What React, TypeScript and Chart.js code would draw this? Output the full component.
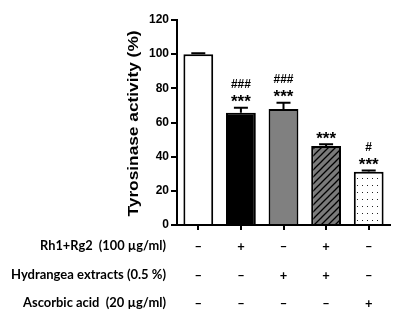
import React, { useEffect, useRef } from "react";
import { Chart, registerables } from "chart.js";

Chart.register(...registerables);

const categories = ["Control", "Rh1+Rg2", "Hydrangea", "Rh1+Rg2+Hydrangea", "Ascorbic acid"];
const values = [100, 65.7, 67.9, 46.3, 31.2];
const errors = [0.6, 3.0, 3.7, 0.9, 0.7];
const stars = ["", "***", "***", "***", "***"];
const hashes = ["", "###", "###", "", "#"];
const yTicks = [0, 20, 40, 60, 80, 100, 120];
const yTitle = "Tyrosinase activity (%)";
const rowLabels = ["Rh1+Rg2  (100 µg/ml)", "Hydrangea extracts (0.5 %)", "Ascorbic acid  (20 µg/ml)"];
const rowSigns = [
  ["–", "+", "–", "+", "–"],
  ["–", "–", "+", "+", "–"],
  ["–", "–", "–", "–", "+"],
];

function hatchPattern(): CanvasPattern | string {
  const c = document.createElement("canvas");
  c.width = 7;
  c.height = 7;
  const g = c.getContext("2d");
  if (!g) return "#777";
  g.fillStyle = "#7a7a7a";
  g.fillRect(0, 0, 7, 7);
  g.strokeStyle = "#000";
  g.lineWidth = 1.3;
  g.beginPath();
  g.moveTo(-1, 8);
  g.lineTo(8, -1);
  g.moveTo(-8, 8);
  g.lineTo(1, -1);
  g.moveTo(6, 8);
  g.lineTo(15, -1);
  g.stroke();
  return g.createPattern(c, "repeat") || "#777";
}

function dotPattern(): CanvasPattern | string {
  const c = document.createElement("canvas");
  c.width = 5;
  c.height = 7;
  const g = c.getContext("2d");
  if (!g) return "#fff";
  g.fillStyle = "#fff";
  g.fillRect(0, 0, 5, 7);
  g.fillStyle = "#222";
  g.fillRect(2, 3, 1, 1);
  return g.createPattern(c, "repeat") || "#fff";
}

const extrasPlugin = {
  id: "extras",
  afterDatasetsDraw(chart: any) {
    const ctx = chart.ctx as CanvasRenderingContext2D;
    const ys = chart.scales.y;
    const meta = chart.getDatasetMeta(0);
    ctx.save();
    ctx.strokeStyle = "#000";
    ctx.lineWidth = 2;
    meta.data.forEach((bar: any, i: number) => {
      const x = bar.x;
      const yTop = ys.getPixelForValue(values[i]);
      const yErr = ys.getPixelForValue(values[i] + errors[i]);
      ctx.beginPath();
      ctx.moveTo(x, yTop);
      ctx.lineTo(x, yErr);
      ctx.moveTo(x - 7, yErr);
      ctx.lineTo(x + 7, yErr);
      ctx.stroke();
      ctx.fillStyle = "#000";
      ctx.textAlign = "center";
      ctx.textBaseline = "middle";
      if (stars[i]) {
        ctx.font = "bold 17px Arial, 'Liberation Sans', sans-serif";
        ctx.fillText(stars[i], x, yErr - 5);
      }
      if (hashes[i]) {
        ctx.font = "bold 12px Arial, 'Liberation Sans', sans-serif";
        ctx.fillText(hashes[i], x, yErr - 23);
      }
    });
    ctx.restore();
  },
  afterDraw(chart: any) {
    const ctx = chart.ctx as CanvasRenderingContext2D;
    const xs = chart.scales.x;
    ctx.save();
    ctx.fillStyle = "#000";
    ctx.font = "bold 14px Arial, 'Liberation Sans', sans-serif";
    const tw = ctx.measureText(yTitle).width;
    const sx = 186 / tw;
    ctx.translate(134, 123.5);
    ctx.rotate(-Math.PI / 2);
    ctx.scale(sx, 1);
    ctx.textAlign = "center";
    ctx.textBaseline = "middle";
    ctx.fillText(yTitle, 0, 0);
    ctx.restore();

    const rowY = [246, 275, 303];
    const widths = [126, 155, 143];
    rowLabels.forEach((lab, r) => {
      ctx.save();
      ctx.font = "bold 13px Lato, 'Open Sans', sans-serif";
      ctx.fillStyle = "#000";
      const w = ctx.measureText(lab).width;
      const s = widths[r] / w;
      ctx.translate(166, rowY[r]);
      ctx.scale(s, 1);
      ctx.textAlign = "right";
      ctx.textBaseline = "middle";
      ctx.fillText(lab, 0, 0);
      ctx.restore();
      rowSigns[r].forEach((sg, i) => {
        ctx.save();
        ctx.font = "bold 13px Lato, 'Open Sans', sans-serif";
        ctx.fillStyle = "#000";
        ctx.textAlign = "center";
        ctx.textBaseline = "middle";
        ctx.fillText(sg, xs.getPixelForValue(i), rowY[r] + 1);
        ctx.restore();
      });
    });
  },
};

export default function App() {
  const ref = useRef<HTMLCanvasElement | null>(null);
  useEffect(() => {
    if (!ref.current) return;
    const bg = ["#ffffff", "#000000", "#808080", hatchPattern(), dotPattern()];
    const chart = new Chart(ref.current, {
      type: "bar",
      data: {
        labels: categories,
        datasets: [
          {
            data: values,
            backgroundColor: bg as any,
            borderColor: "#000",
            borderWidth: 2,
            barPercentage: 0.7,
            categoryPercentage: 1,
          },
        ],
      },
      options: {
        animation: false,
        responsive: false,
        events: [],
        layout: { padding: { top: 20, right: 6, left: 0, bottom: 0 } },
        plugins: { legend: { display: false }, tooltip: { enabled: false }, title: { display: false } },
        scales: {
          x: {
            type: "category",
            offset: true,
            grid: {
              display: true,
              drawOnChartArea: false,
              drawTicks: true,
              tickLength: 5,
              offset: false,
              color: "#000",
              lineWidth: 2,
            },
            border: { display: true, color: "#000", width: 2 },
            ticks: { display: false },
            afterFit: (s: any) => {
              s.height = 106;
            },
          },
          y: {
            min: 0,
            max: 120,
            afterBuildTicks: (s: any) => {
              s.ticks = yTicks.map((v) => ({ value: v }));
            },
            ticks: {
              color: "#000",
              padding: 2,
              font: { family: "Arial, 'Liberation Sans', sans-serif", size: 12, weight: "bold" },
            },
            grid: {
              drawOnChartArea: false,
              drawTicks: true,
              tickLength: 6,
              color: "#000",
              lineWidth: 2,
            },
            border: { display: true, color: "#000", width: 2 },
            afterFit: (s: any) => {
              s.width = 177;
            },
          },
        },
      },
      plugins: [extrasPlugin],
    });
    return () => chart.destroy();
  }, []);
  return (
    <div style={{ position: "fixed", left: 0, top: 0, width: 396, height: 331, background: "#fff" }}>
      <canvas ref={ref} width={396} height={331} />
    </div>
  );
}
